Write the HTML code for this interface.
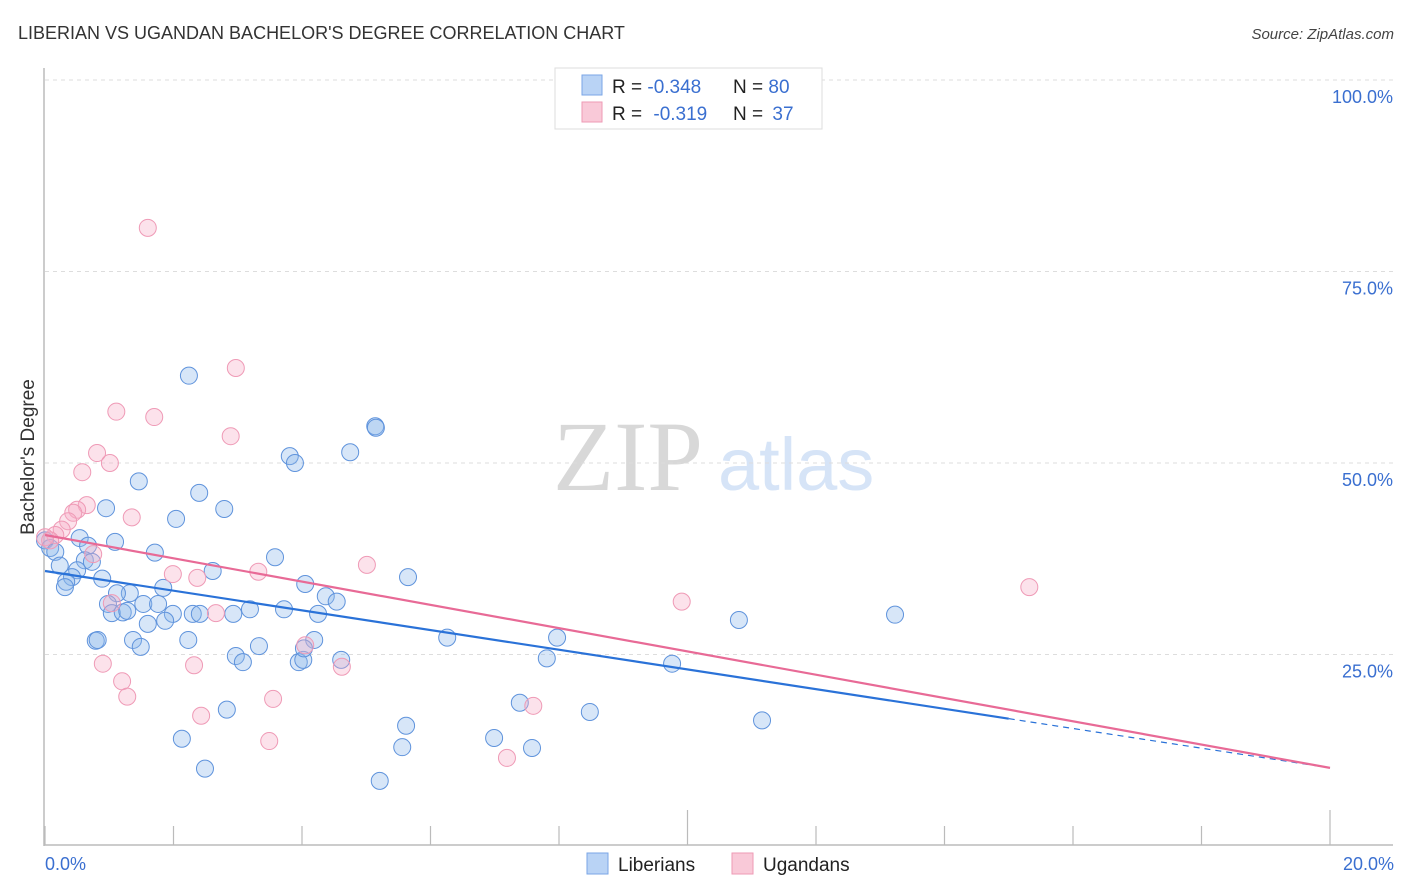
<!DOCTYPE html>
<html><head><meta charset="utf-8"><style>
body{margin:0;background:#fff;font-family:"Liberation Sans",sans-serif;}
#wrap{position:relative;width:1406px;height:892px;overflow:hidden;}
</style></head><body>
<div id="wrap">
<svg id="svg" width="1406" height="892" xmlns="http://www.w3.org/2000/svg">
<text x="18" y="39" font-size="18" fill="#333">LIBERIAN VS UGANDAN BACHELOR'S DEGREE CORRELATION CHART</text>
<text x="1394" y="39" font-size="15" fill="#444" font-style="italic" text-anchor="end">Source: ZipAtlas.com</text>
<text x="553" y="490" font-size="100" fill="#d8d8d8" font-family="Liberation Serif,serif">ZIP</text>
<text x="718" y="490" font-size="74" fill="#d6e4f7">atlas</text>
<text transform="translate(34,457) rotate(-90)" font-size="19" fill="#333" text-anchor="middle">Bachelor's Degree</text>
<g id="grid"></g>
<line x1="44" y1="68" x2="44" y2="846" stroke="#bbb" stroke-width="1.5"/>
<line x1="44" y1="845" x2="1393" y2="845" stroke="#bbb" stroke-width="1.5"/>
<g id="ticks"></g>
<g id="pts"></g>
<g id="lines"></g>
<text x="45" y="870" font-size="18" fill="#3a6fd0">0.0%</text>
<text x="1394" y="870" font-size="18" fill="#3a6fd0" text-anchor="end">20.0%</text>
<g>
<rect x="555" y="68" width="267" height="61" fill="#fff" stroke="#ddd"/>
<rect x="582" y="75" width="20" height="20" fill="#b9d3f5" stroke="#7aa6e6"/>
<rect x="582" y="102" width="20" height="20" fill="#f9c9d8" stroke="#ee9ab5"/>
<text x="612" y="93" font-size="19" fill="#222">R = <tspan fill="#3a6fd0">-0.348</tspan></text>
<text x="733" y="93" font-size="19" fill="#222">N = <tspan fill="#3a6fd0">80</tspan></text>
<text x="612" y="120" font-size="19" fill="#222">R = <tspan fill="#3a6fd0" dx="6">-0.319</tspan></text>
<text x="733" y="120" font-size="19" fill="#222">N = <tspan fill="#3a6fd0" dx="4">37</tspan></text>
</g>
<g>
<rect x="587" y="853" width="21" height="21" fill="#b9d3f5" stroke="#7aa6e6"/>
<text x="618" y="871" font-size="19" fill="#222">Liberians</text>
<rect x="732" y="853" width="21" height="21" fill="#f9c9d8" stroke="#ee9ab5"/>
<text x="763" y="871" font-size="19" fill="#222">Ugandans</text>
</g>
</svg>
</div>
<script>
const yTicks=[25,50,75,100];
const yTickLabels=["25.0%","50.0%","75.0%","100.0%"];
const xTickVals=[0,2,4,6,8,10,12,14,16,18,20];
const libX=[2.24,5.14,5.15,4.75,3.81,3.89,1.46,2.40,2.79,0.95,2.04,0.54,1.09,1.71,3.58,0,0.08,0.16,0.23,0.67,0.62,0.73,0.50,0.42,0.33,0.31,0.89,2.61,1.84,4.05,5.65,1.32,1.12,4.37,4.54,0.98,1.53,1.76,1.04,1.21,1.28,2.30,2.41,1.99,2.93,3.19,3.72,4.25,1.60,1.87,0.79,0.82,1.37,1.49,2.23,3.33,2.97,3.08,3.95,4.19,4.61,6.26,7.97,7.81,9.76,10.80,13.23,7.39,8.48,5.62,2.83,2.13,5.56,6.99,7.58,2.49,5.21,11.16,4.02,4.03];
const libY=[61.4,54.8,54.6,51.4,50.9,50.0,47.6,46.1,44.0,44.1,42.7,40.2,39.7,38.3,37.7,39.9,38.9,38.4,36.6,39.2,37.3,37.1,36.0,35.1,34.5,33.8,34.9,35.9,33.7,34.2,35.1,33.0,33.0,32.6,31.9,31.6,31.6,31.6,30.4,30.5,30.7,30.3,30.3,30.3,30.3,30.9,30.9,30.3,29.0,29.4,26.8,26.9,26.9,26.0,26.9,26.1,24.8,24.0,24.0,26.9,24.3,27.2,27.2,24.5,23.8,29.5,30.2,18.7,17.5,15.7,17.8,14.0,12.9,14.1,12.8,10.1,8.5,16.4,24.3,25.8];
const ugaX=[1.60,2.97,1.11,1.70,2.89,0.81,1.01,0.58,0.65,1.35,0.50,0.44,0.36,0.26,0.16,0,0.08,0.75,1.99,2.37,3.32,5.01,9.91,15.32,1.04,2.66,4.05,4.62,0.90,2.32,1.20,1.28,3.55,2.43,7.60,3.49,7.19];
const ugaY=[80.7,62.4,56.7,56.0,53.5,51.3,50.0,48.8,44.5,42.9,43.9,43.5,42.4,41.3,40.6,40.3,39.9,38.1,35.5,35.0,35.8,36.7,31.9,33.8,31.7,30.4,26.2,23.4,23.8,23.6,21.5,19.5,19.2,17.0,18.3,13.7,11.5];
const libTrend=[35.9,10.2];
const ugaTrend=[40.6,10.2];
const libSolidEnd=15.0;

const NS="http://www.w3.org/2000/svg";
function sx(v){return 45+v/20*1285;}
function sy(v){return 846-v/100*766;}
function mk(tag,attrs,parent){const e=document.createElementNS(NS,tag);for(const k in attrs)e.setAttribute(k,attrs[k]);parent.appendChild(e);return e;}
const grid=document.getElementById('grid');
yTicks.forEach((t,i)=>{
  const l=mk('line',{x1:45,x2:1393,y1:sy(t),y2:sy(t),stroke:'#ddd','stroke-dasharray':'4,4'},grid);
  
  
  const tx=mk('text',{x:1393,y:sy(t)+23,'font-size':18,fill:'#3a6fd0','text-anchor':'end'},grid);
  tx.textContent=yTickLabels[i];
  
  
});
const ticks=document.getElementById('ticks');
xTickVals.forEach(v=>{
  const tall=(v===10||v===20);
  const l=mk('line',{x1:sx(v),x2:sx(v),y1:tall?810:826,y2:845,stroke:'#bbb','stroke-width':1.2},ticks);
  
  
});
const pts=document.getElementById('pts');
libX.forEach((x,i)=>{
  const c=mk('circle',{cx:sx(x),cy:sy(libY[i]),r:8.5,fill:'rgba(140,182,236,0.35)',stroke:'#5f93dc','stroke-width':1},pts);
  
  
});
ugaX.forEach((x,i)=>{
  const c=mk('circle',{cx:sx(x),cy:sy(ugaY[i]),r:8.5,fill:'rgba(246,172,197,0.35)',stroke:'#ef9ab6','stroke-width':1},pts);
  
  
});
const lines=document.getElementById('lines');
function ty(tr,x){return tr[0]+(tr[1]-tr[0])*x/20;}
const l1=mk('line',{x1:sx(0),y1:sy(libTrend[0]),x2:sx(libSolidEnd),y2:sy(ty(libTrend,libSolidEnd)),stroke:'#2a72d8','stroke-width':2.2},lines);


const l2=mk('line',{x1:sx(libSolidEnd),y1:sy(ty(libTrend,libSolidEnd)),x2:sx(20),y2:sy(libTrend[1]),stroke:'#2a72d8','stroke-width':1.2,'stroke-dasharray':'6,5'},lines);


const l3=mk('line',{x1:sx(0),y1:sy(ugaTrend[0]),x2:sx(20),y2:sy(ugaTrend[1]),stroke:'#e86a96','stroke-width':2.2},lines);


</script>
</body></html>
